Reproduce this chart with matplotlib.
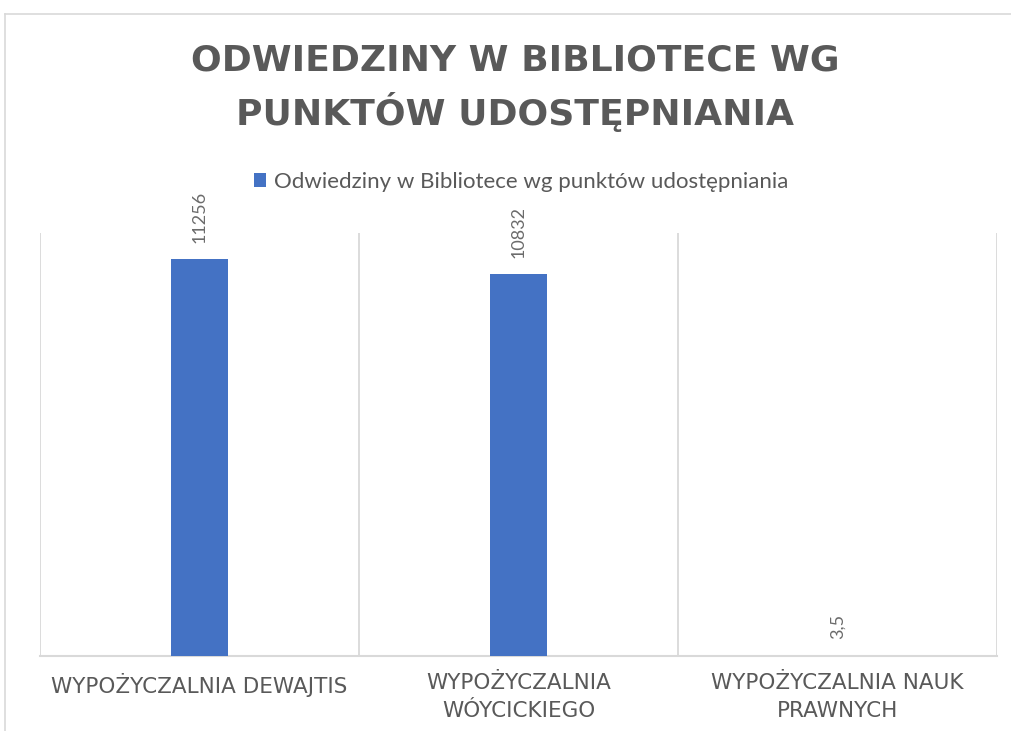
import matplotlib
matplotlib.use("Agg")
import matplotlib.pyplot as plt
from matplotlib.lines import Line2D

categories = ["WYPOŻYCZALNIA DEWAJTIS", "WYPOŻYCZALNIA\nWÓYCICKIEGO", "WYPOŻYCZALNIA NAUK\nPRAWNYCH"]
values = [11256, 10832, 3.5]
value_labels = ["11256", "10832", "3,5"]
series_name = "Odwiedziny w Bibliotece wg punktów udostępniania"
title = "ODWIEDZINY W BIBLIOTECE WG\nPUNKTÓW UDOSTĘPNIANIA"

W, H = 1011, 731
fig = plt.figure(figsize=(W / 100, H / 100), dpi=100)
fig.patch.set_facecolor("white")

# chart border (left and top visible)
border_col = "#D9D9D9"
fig.add_artist(Line2D([5 / W, 5 / W], [0, 1 - 14 / H], transform=fig.transFigure, color=border_col, lw=1.2))
fig.add_artist(Line2D([5 / W, 1], [1 - 14 / H, 1 - 14 / H], transform=fig.transFigure, color=border_col, lw=1.2))

left, right, top, bottom = 40, 997, 233, 656
ax = fig.add_axes([left / W, 1 - bottom / H, (right - left) / W, (bottom - top) / H])

x = list(range(len(categories)))
bars = ax.bar(x, values, width=0.18, color="#4472C4", label=series_name, zorder=3)
ax.set_xlim(-0.5, len(categories) - 0.5)
ax.set_ylim(0, 12000)

for xi, v, lab in zip(x, values, value_labels):
    ax.annotate(lab, (xi, v), xytext=(0, 12), textcoords="offset points",
                rotation=90, ha="center", va="bottom", color="#6b6b6b",
                fontsize=13, family="Lato")

for b in [i - 0.5 for i in range(len(categories) + 1)]:
    ax.axvline(b, color=border_col, lw=1.3, zorder=1)

for s in ["left", "right", "top"]:
    ax.spines[s].set_visible(False)
ax.spines["bottom"].set_color(border_col)
ax.spines["bottom"].set_linewidth(1.5)
ax.set_yticks([])
ax.set_xticks(x)
ax.set_xticklabels(categories, fontsize=15.5, color="#595959", family="DejaVu Sans", linespacing=1.5)
ax.tick_params(axis="x", length=0, pad=12)

fig.text(515 / W, 1 - 88 / H, title, ha="center", va="center", fontsize=26,
         fontweight="bold", color="#595959", family="DejaVu Sans", linespacing=1.45)

leg = fig.legend(handles=[bars], labels=[series_name], loc="center",
                 bbox_to_anchor=(521 / W, 1 - 182 / H), frameon=False,
                 prop={"family": "Lato", "size": 16}, handlelength=0.55, handleheight=0.55,
                 handletextpad=0.35, labelcolor="#595959")

fig.savefig("out.png", dpi=100, facecolor="white")
